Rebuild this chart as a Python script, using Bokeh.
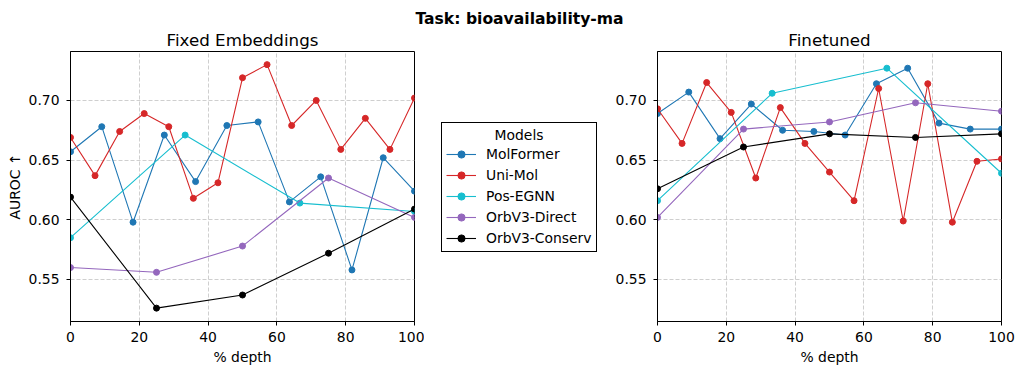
from bokeh.plotting import figure
from bokeh.layouts import row, column
from bokeh.models import Legend, LegendItem, FixedTicker, PrintfTickFormatter, Range1d, Label
from bokeh.embed import file_html
from bokeh.resources import INLINE

# ---------------- data ----------------
models = ["MolFormer", "Uni-Mol", "Pos-EGNN", "OrbV3-Direct", "OrbV3-Conserv"]
colors = ["#1f77b4", "#d62728", "#17becf", "#9467bd", "black"]

depth_molformer = [0, 9.09, 18.18, 27.27, 36.36, 45.45, 54.55, 63.64, 72.73, 81.82, 90.91, 100]
depth_unimol = [0, 7.14, 14.29, 21.43, 28.57, 35.71, 42.86, 50, 57.14, 64.29, 71.43, 78.57, 85.71, 92.86, 100]
depth_posegnn = [0, 33.33, 66.67, 100]
depth_orb = [0, 25, 50, 75, 100]

fixed_molformer = [0.657, 0.678, 0.598, 0.671, 0.632, 0.679, 0.682, 0.615, 0.636, 0.558, 0.652, 0.624]
fixed_unimol = [0.669, 0.637, 0.674, 0.689, 0.678, 0.618, 0.631, 0.719, 0.730, 0.679, 0.700, 0.659, 0.685, 0.659, 0.702]
fixed_posegnn = [0.585, 0.671, 0.614, 0.607]
fixed_orbdirect = [0.560, 0.556, 0.578, 0.635, 0.602]
fixed_orbconserv = [0.619, 0.526, 0.537, 0.572, 0.609]

fine_molformer = [0.689, 0.707, 0.668, 0.697, 0.675, 0.674, 0.671, 0.714, 0.727, 0.681, 0.676, 0.676]
fine_unimol = [0.693, 0.664, 0.715, 0.690, 0.635, 0.694, 0.664, 0.640, 0.616, 0.710, 0.599, 0.714, 0.598, 0.649, 0.651]
fine_posegnn = [0.616, 0.706, 0.727, 0.639]
fine_orbdirect = [0.602, 0.676, 0.682, 0.698, 0.691]
fine_orbconserv = [0.626, 0.661, 0.672, 0.669, 0.672]

x_ticks = [0, 20, 40, 60, 80, 100]
y_ticks = [0.55, 0.60, 0.65, 0.70]

main_title = "Task: bioavailability-ma"
panel_titles = ["Fixed Embeddings", "Finetuned"]
legend_title = "Models"

FONT = "DejaVu Sans"
TICK = "13.9px"
TITLE = "16.7px"

depths = [depth_molformer, depth_unimol, depth_posegnn, depth_orb, depth_orb]
fixed = [fixed_molformer, fixed_unimol, fixed_posegnn, fixed_orbdirect, fixed_orbconserv]
fine = [fine_molformer, fine_unimol, fine_posegnn, fine_orbdirect, fine_orbconserv]

TOP, FRAME_H, BOTTOM = 22, 270, 47
HEAD = 29


def make_panel(title, series, left_border, right_border, ylabel=None):
    p = figure(frame_width=344, frame_height=FRAME_H, output_backend="svg",
               toolbar_location=None, title=title,
               x_range=Range1d(0, 100), y_range=Range1d(0.5148, 0.741),
               min_border_left=left_border, min_border_right=right_border,
               min_border_top=TOP, min_border_bottom=BOTTOM)
    p.title.align = "center"
    p.title.vertical_align = "top"
    p.title.text_font = FONT
    p.title.text_font_size = TITLE
    p.title.text_font_style = "normal"
    p.title.text_color = "black"
    p.title.standoff = 0
    p.outline_line_color = "black"
    p.outline_line_width = 1
    p.outline_line_alpha = 1
    p.background_fill_color = "white"
    p.border_fill_color = "white"
    for ax in (p.xaxis, p.yaxis):
        ax.axis_line_color = "black"
        ax.major_tick_line_color = "black"
        ax.major_tick_out = 4
        ax.major_tick_in = 0
        ax.minor_tick_line_color = None
        ax.major_label_text_font = FONT
        ax.major_label_text_font_size = TICK
        ax.major_label_text_color = "black"
        ax.axis_label_text_font = FONT
        ax.axis_label_text_font_size = TICK
        ax.axis_label_text_font_style = "normal"
        ax.axis_label_text_color = "black"
    p.xaxis.major_label_standoff = 6
    p.yaxis.major_label_standoff = 7
    p.xaxis.ticker = FixedTicker(ticks=x_ticks)
    p.yaxis.ticker = FixedTicker(ticks=y_ticks)
    p.yaxis.formatter = PrintfTickFormatter(format="%.2f")
    p.xaxis.axis_label = "% depth"
    p.xaxis.axis_label_standoff = 4
    if ylabel:
        p.yaxis.axis_label = ylabel
        p.yaxis.axis_label_standoff = 3
    p.grid.grid_line_color = "#cfcfcf"
    p.grid.grid_line_dash = "4 2"
    p.grid.grid_line_width = 1
    for xs, ys, c in zip(depths, series, colors):
        p.line(xs, ys, line_color=c, line_width=1.1)
        p.scatter(xs, ys, size=6, fill_color=c, line_color=c)
    return p


p1 = make_panel(panel_titles[0], fixed, 70, 10, ylabel="AUROC \u2191")
p2 = make_panel(panel_titles[1], fine, 44, 15)

# legend-only figure between the panels (its own renderers lie outside its ranges)
leg = figure(width=188, height=TOP + FRAME_H + BOTTOM, output_backend="svg",
             toolbar_location=None, x_range=Range1d(-2, -1), y_range=Range1d(-2, -1),
             min_border_left=0, min_border_right=0, min_border_top=0, min_border_bottom=0,
             x_axis_location=None, y_axis_location=None, outline_line_color=None)
leg.grid.visible = False
items = []
for name, xs, ys, c in zip(models, depths, fixed, colors):
    r1 = leg.line(xs, ys, line_color=c, line_width=1.1)
    r2 = leg.scatter(xs, ys, size=6, fill_color=c, line_color=c)
    items.append(LegendItem(label=name, renderers=[r1, r2]))
legend = Legend(items=items, location=(17, 69), margin=0,
                title="\u00a0" * 11 + legend_title,
                title_text_font=FONT, title_text_font_size=TICK, title_text_font_style="normal",
                title_text_color="black", title_standoff=2,
                label_text_font=FONT, label_text_font_size=TICK, label_text_color="black",
                glyph_width=30, glyph_height=18, label_height=18, label_standoff=10,
                spacing=3, padding=4,
                border_line_color="black", border_line_width=1, border_line_alpha=1.0,
                background_fill_alpha=1.0)
leg.add_layout(legend, "center")

# heading figure on top holding the main title as a label
tfig = figure(width=1015, height=HEAD, output_backend="svg", toolbar_location=None,
              x_range=Range1d(0, 1), y_range=Range1d(0, 1),
              min_border_left=0, min_border_right=0, min_border_top=0, min_border_bottom=0,
              x_axis_location=None, y_axis_location=None, outline_line_color=None)
tfig.grid.visible = False
tfig.add_layout(Label(x=519, y=HEAD - 18, x_units="screen", y_units="screen",
                      text=main_title, text_align="center", text_baseline="middle",
                      text_font=FONT, text_font_size="15.6px", text_font_style="bold",
                      text_color="black"))

layout = column(tfig, row(p1, leg, p2))
open("out.html", "w").write(file_html(layout, INLINE))
